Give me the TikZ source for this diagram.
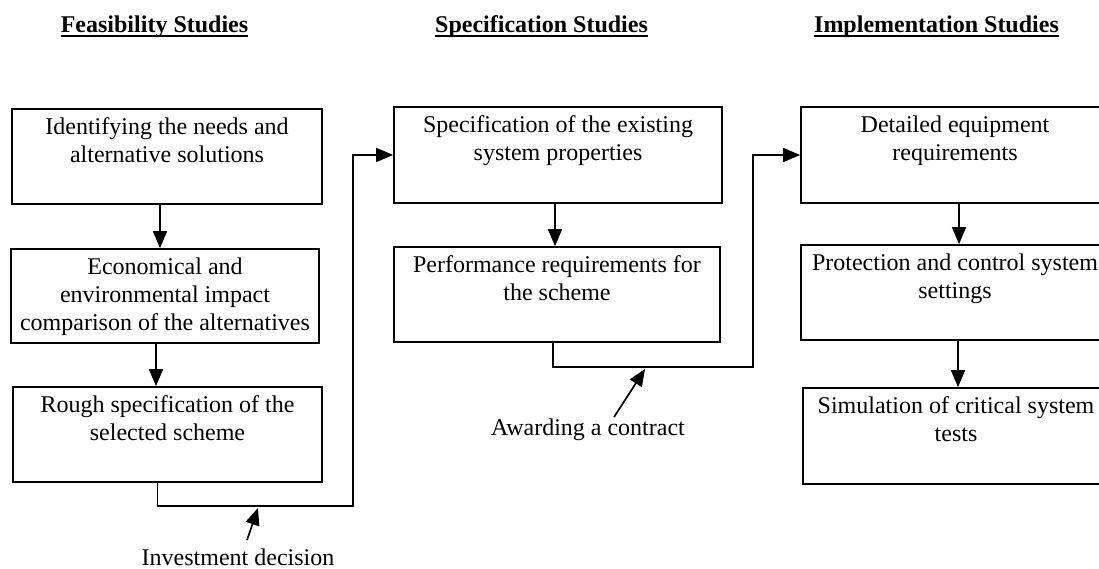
\documentclass[tikz,border=0pt]{standalone}
\usepackage{fontspec}
\setmainfont{Liberation Serif}
\usetikzlibrary{arrows.meta, calc, positioning}
\tikzset{
  stage/.style     = {draw, line width=1.7pt, inner sep=0pt},
  stagetext/.style = {anchor=north, align=center, inner sep=0pt,
                      font=\fontsize{24}{28}\selectfont},
  head/.style      = {anchor=base, inner sep=0pt,
                      font=\fontsize{24}{28}\selectfont\bfseries},
  uline/.style     = {line width=2.5pt},
  lbl/.style       = {anchor=base, inner sep=1pt,
                      font=\fontsize{24}{28}\selectfont},
  flow/.style      = {-{Triangle[length=17pt, width=14pt]}, line width=1.7pt},
}
\begin{document}
\begin{tikzpicture}[x=1pt, y=-1pt]

  \useasboundingbox (0,0) rectangle (1099,569);
  \clip (0,0) rectangle (1099,569);

  %% ---------------- the three headings ----------------
  \foreach \h/\x/\t in {feas/154.5/Feasibility Studies,
                        spec/541.5/Specification Studies,
                        impl/936.5/Implementation Studies} {
    \node[head] (\h) at (\x,33) {\t};
    \draw[uline] ([yshift=-3pt]\h.base west) -- ([yshift=-3pt]\h.base east);
  }

  %% ---------------- feasibility ----------------
  \node[stage, minimum width=310pt, minimum height=95pt] (needs)  at (167,156.5) {};
  \node[stage, minimum width=308pt, minimum height=94pt] (impact) at (165,296) {};
  \node[stage, minimum width=309pt, minimum height=95pt] (rough)  at (167.5,434.5) {};

  \node[stagetext] (needs-t)  at ($(needs.north)+(0,9)$)
       {Identifying the needs and\\alternative solutions};
  \node[stagetext] (impact-t) at ($(impact.north)+(0,9)$)
       {Economical and\\environmental impact\\comparison of the alternatives};
  \node[stagetext] (rough-t)  at ($(rough.north)+(0,9)$)
       {Rough specification of the\\selected scheme};

  \draw[flow] ([xshift=-7pt]needs.south) -- ([xshift=-7pt]needs.south |- impact.north);
  \draw[flow] ([xshift=-9pt]impact.south) -- ([xshift=-9pt]impact.south |- rough.north);

  %% ---------------- specification ----------------
  \node[stage, minimum width=328pt, minimum height=96pt] (exist) at (558,155) {};
  \node[stage, minimum width=326pt, minimum height=95pt] (perf)  at (557,294.5) {};

  \node[stagetext] (exist-t) at ($(exist.north)+(0,9)$)
       {Specification of the existing\\system properties};
  \node[stagetext] (perf-t)  at ($(perf.north)+(0,9)$)
       {Performance requirements for\\the scheme};

  \draw[flow] ([xshift=-3pt]exist.south) -- ([xshift=-3pt]exist.south |- perf.north);

  %% ---------------- implementation ----------------
  \node[stage, minimum width=308pt, minimum height=96pt] (equip) at (955,155) {};
  \node[stage, minimum width=308pt, minimum height=95pt] (prot)  at (955,292.5) {};
  \node[stage, minimum width=306pt, minimum height=96pt] (simul) at (956,436) {};

  \node[stagetext] (equip-t) at ($(equip.north)+(0,9)$)
       {Detailed equipment\\requirements};
  \node[stagetext] (prot-t)  at ($(prot.north)+(0,9)$)
       {Protection and control system\\settings};
  \node[stagetext] (simul-t) at ($(simul.north)+(0,9)$)
       {Simulation of critical system\\tests};

  \draw[flow] ([xshift=4pt]equip.south) -- ([xshift=4pt]equip.south |- prot.north);
  \draw[flow] ([xshift=3pt]prot.south) -- ([xshift=3pt]prot.south |- simul.north);

  %% ---------------- the two decisions between the phases ----------------
  \coordinate (dec1) at (353,506);
  \coordinate (dec2) at (753,367);
  \draw[flow] ([xshift=-10pt]rough.south) |- (dec1) |- (exist.west);
  \draw[flow] ([xshift=-4pt]perf.south) |- (dec2) |- (equip.west);

  \node[lbl] (invest) at (238,565) {Investment decision};
  \node[lbl] (award)  at (588,435) {Awarding a contract};
  \coordinate (invtip) at (258,508);
  \coordinate (awtip)  at (645,369);
  \draw[flow] ([shift={(9,-7)}]invest.north) -- (invtip);
  \draw[flow] ([shift={(26,0)}]award.north) -- (awtip);

\end{tikzpicture}
\end{document}
